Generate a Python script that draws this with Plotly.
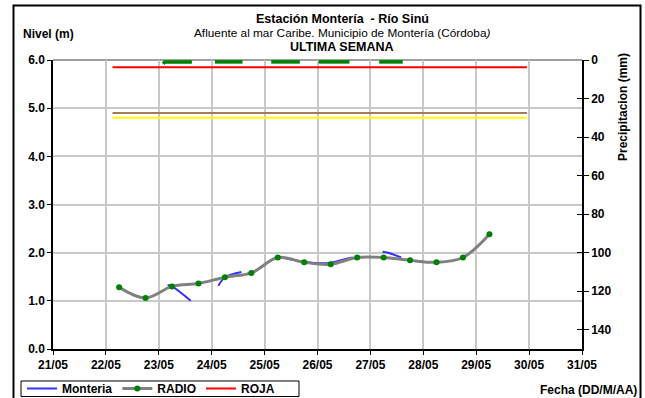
import plotly.graph_objects as go

# ---------------- data ----------------
radio_time = ["2023-05-22 06:00", "2023-05-22 18:00", "2023-05-23 06:00", "2023-05-23 18:00",
              "2023-05-24 06:00", "2023-05-24 18:00", "2023-05-25 06:00", "2023-05-25 18:00",
              "2023-05-26 06:00", "2023-05-26 18:00", "2023-05-27 06:00", "2023-05-27 18:00",
              "2023-05-28 06:00", "2023-05-28 18:00", "2023-05-29 06:00"]
radio_level = [1.28, 1.06, 1.30, 1.36, 1.49, 1.58, 1.90, 1.80, 1.76, 1.90, 1.90, 1.84, 1.80, 1.90, 2.38]

monteria_time = ["2023-05-23 04:00", "2023-05-23 06:00", "2023-05-23 14:30", None,
                 "2023-05-24 03:00", "2023-05-24 06:00", "2023-05-24 13:30", None,
                 "2023-05-25 06:00", "2023-05-25 12:00", "2023-05-25 18:00", "2023-05-26 00:00",
                 "2023-05-26 06:00", "2023-05-26 12:00", "2023-05-26 16:00", None,
                 "2023-05-27 05:30", "2023-05-27 08:00", "2023-05-27 14:00"]
monteria_level = [1.33, 1.30, 1.00, None,
                  1.31, 1.49, 1.60, None,
                  1.92, 1.86, 1.81, 1.78, 1.79, 1.86, 1.90, None,
                  2.02, 2.00, 1.90]

threshold_time = ["2023-05-22 03:00", "2023-05-29 23:00"]
roja_level = [5.85, 5.85]
naranja_level = [4.90, 4.90]
amarilla_level = [4.80, 4.80]

precip_time = ["2023-05-23 02:00", "2023-05-23 02:40", "2023-05-23 15:00", None,
               "2023-05-24 01:30", "2023-05-24 14:00", None,
               "2023-05-25 03:00", "2023-05-25 16:00", None,
               "2023-05-26 00:30", "2023-05-26 14:30", None,
               "2023-05-27 04:00", "2023-05-27 14:40"]
precip_mm = [1.0, 0, 0, None, 0, 0, None, 0, 0, None, 0, 0, None, 0, 0]

x_range = ["2023-05-21", "2023-05-31"]
level_ticks = [0, 1, 2, 3, 4, 5, 6]
precip_ticks = [0, 20, 40, 60, 80, 100, 120, 140]

# ---------------- layout helpers ----------------
W, H = 645, 398
PL, PR, PT, PB = 53, 582, 60, 349


def px(x):
    return (x - PL) / (PR - PL)


def py(y):
    return (PB - y) / (PB - PT)


FONT = "Liberation Sans, Arial, sans-serif"

fig = go.Figure()

fig.add_trace(go.Scatter(x=monteria_time, y=monteria_level, name="Monteria", mode="lines",
                         line=dict(color="#3333FF", width=2, shape="spline"), connectgaps=False))
fig.add_trace(go.Scatter(x=radio_time, y=radio_level, name="RADIO", mode="lines+markers",
                         line=dict(color="#808080", width=3, shape="spline"),
                         marker=dict(color="#008000", size=6)))
fig.add_trace(go.Scatter(x=threshold_time, y=roja_level, name="ROJA", mode="lines",
                         line=dict(color="#FF0000", width=2)))
fig.add_trace(go.Scatter(x=threshold_time, y=naranja_level, name="NARANJA", mode="lines",
                         line=dict(color="#A67B5B", width=2), showlegend=False))
fig.add_trace(go.Scatter(x=threshold_time, y=amarilla_level, name="AMARILLA", mode="lines",
                         line=dict(color="#FFFF00", width=2), showlegend=False))
# precipitation drawn on an overlay of the precipitation scale (tiny headroom so the
# thick line at 0 mm is not clipped by the plot edge)
fig.add_trace(go.Scatter(x=precip_time, y=precip_mm, name="Precipitacion", mode="lines",
                         line=dict(color="#008000", width=3.5), connectgaps=False,
                         showlegend=False, yaxis="y4"))
fig.add_trace(go.Scatter(x=[None], y=[None], yaxis="y2", showlegend=False, hoverinfo="skip"))
fig.add_trace(go.Scatter(x=[None], y=[None], yaxis="y3", showlegend=False, hoverinfo="skip"))

tickfont = dict(family=FONT, size=12, color="black", weight="bold")

fig.update_layout(
    width=W, height=H,
    margin=dict(l=PL, r=W - PR, t=PT, b=H - PB, pad=0, autoexpand=False),
    paper_bgcolor="white", plot_bgcolor="white",
    font=dict(family=FONT, color="black"),
    xaxis=dict(type="date", range=x_range, dtick=86400000, tick0="2023-05-21",
               tickformat="%d/%m", tickfont=tickfont, automargin=False,
               showgrid=True, gridcolor="#C8C8C8", gridwidth=1.5,
               showline=True, linecolor="black", linewidth=1.5,
               ticks="outside", ticklen=4, tickcolor="black", zeroline=False),
    yaxis=dict(range=[0, 6], tickvals=level_ticks, tickformat=".1f", tickfont=tickfont,
               showgrid=True, gridcolor="#C8C8C8", gridwidth=1.5, automargin=False,
               showline=True, linecolor="black", linewidth=1.5,
               ticks="outside", ticklen=4, tickcolor="black", zeroline=False),
    yaxis2=dict(overlaying="y", side="right", range=[150, 0], tickvals=precip_ticks,
                tickfont=tickfont, showgrid=False, zeroline=False, automargin=False,
                showline=True, linecolor="black", linewidth=1.5,
                ticks="outside", ticklen=5, tickcolor="black"),
    yaxis3=dict(overlaying="y", side="right", range=[150, 0], tickvals=precip_ticks,
                showticklabels=False, showgrid=False, zeroline=False, showline=False,
                automargin=False, ticks="inside", ticklen=5, tickcolor="black"),
    yaxis4=dict(overlaying="y", side="right", range=[150, -1.0], visible=False,
                showgrid=False, zeroline=False, automargin=False),
    showlegend=True,
    legend=dict(orientation="h", x=px(22), y=py(388.5), xanchor="left", yanchor="middle",
                bgcolor="rgba(0,0,0,0)", borderwidth=0,
                font=dict(family=FONT, size=12, color="black", weight="bold"),
                itemwidth=30, tracegroupgap=0),
)

# top gray frame line at 6.0
fig.add_shape(type="line", xref="paper", yref="paper", x0=0, x1=1, y0=1, y1=1,
              line=dict(color="#A0A0A0", width=2), layer="below")
# outer border
fig.add_shape(type="rect", xref="paper", yref="paper",
              x0=px(13.5), x1=px(640.5), y0=py(5.5), y1=py(402),
              line=dict(color="black", width=2))
# legend box
fig.add_shape(type="rect", xref="paper", yref="paper",
              x0=px(21), x1=px(299), y0=py(381), y1=py(396.5),
              line=dict(color="black", width=1))

annots = [
    dict(text="<b>Estación Montería  - Río Sinú</b>", x=px(342), y=py(19.5), size=12.5),
    dict(text="Afluente al mar Caribe. Municipio de Montería (Córdoba<i>)</i>", x=px(342), y=py(33), size=11.8),
    dict(text="<b>ULTIMA SEMANA</b>", x=px(341), y=py(46.5), size=12.5),
]
for a in annots:
    fig.add_annotation(text=a["text"], x=a["x"], y=a["y"], xref="paper", yref="paper",
                       xanchor="center", yanchor="middle", showarrow=False,
                       font=dict(family=FONT, size=a["size"], color="black"))

fig.add_annotation(text="<b>Nivel (m)</b>", x=px(21), y=py(34), xref="paper", yref="paper",
                   xanchor="left", yanchor="middle", showarrow=False,
                   font=dict(family=FONT, size=12, color="black"))
fig.add_annotation(text="<b>Precipitacion (mm)</b>", x=px(623), y=py(107), xref="paper", yref="paper",
                   xanchor="center", yanchor="middle", showarrow=False, textangle=-90,
                   font=dict(family=FONT, size=12, color="black"))
fig.add_annotation(text="<b>Fecha (DD/M/AA)</b>", x=px(639), y=py(390), xref="paper", yref="paper",
                   xanchor="right", yanchor="middle", showarrow=False,
                   font=dict(family=FONT, size=12, color="black"))

fig.write_html("out.html", config={"displayModeBar": False},
               post_script="document.body.style.margin='0';document.body.style.overflow='hidden';")
